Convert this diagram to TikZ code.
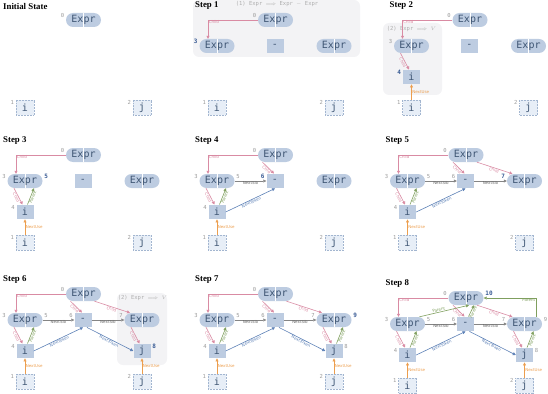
\documentclass[tikz,border=0pt]{standalone}
\usepackage{fontspec}
\setmainfont{Liberation Serif}
\setsansfont{DejaVu Sans}
\setmonofont{DejaVu Sans Mono}
\usepackage{xcolor}
\usetikzlibrary{positioning, calc, arrows.meta}

\definecolor{nodefill}{HTML}{BDCCE1}
\definecolor{nodetext}{HTML}{3E5573}
\definecolor{tokfill}{HTML}{E7EEF7}
\definecolor{tokline}{HTML}{A3B6D0}
\definecolor{numgray}{HTML}{9A9A9A}
\definecolor{numblue}{HTML}{3A5C95}
\definecolor{childcol}{HTML}{D98BA3}
\definecolor{parentcol}{HTML}{7F9F5E}
\definecolor{sibcol}{HTML}{858585}
\definecolor{tokcol}{HTML}{5C80B6}
\definecolor{usecol}{HTML}{EC9E4E}
\definecolor{rulebox}{HTML}{F3F3F5}
\definecolor{ruletext}{HTML}{ADADAD}

\begin{document}
\begin{tikzpicture}[x=1pt, y=-1pt,
    expr/.style={rectangle, rounded corners=7pt, fill=nodefill, text=nodetext,
        minimum width=35pt, minimum height=14pt, inner sep=0pt,
        font=\fontsize{10}{10}\selectfont\ttfamily,
        path picture={\draw[white, line width=0.8pt]
            (path picture bounding box.north) -- (path picture bounding box.south);}},
    sym/.style={rectangle, fill=nodefill, text=nodetext,
        minimum width=17pt, minimum height=14.5pt, inner sep=0pt,
        font=\fontsize{10}{10}\selectfont\ttfamily},
    tokbox/.style={sym, fill=tokfill, draw=tokline, densely dotted, line width=0.5pt,
        minimum width=18pt, minimum height=15pt},
    steptitle/.style={anchor=west, inner sep=0pt, font=\fontsize{8.8}{9}\selectfont\bfseries},
    idl/.style={anchor=north east, inner sep=0.5pt, xshift=-1pt, text=numgray,
        font=\fontsize{5.5}{5.5}\selectfont\ttfamily},
    idr/.style={idl, anchor=north west, xshift=2pt},
    newid/.style={text=numblue, font=\fontsize{6}{6}\selectfont\ttfamily\bfseries},
    rulebg/.style={fill=rulebox, rounded corners=6pt},
    ruletxt/.style={inner sep=0pt, text=ruletext, font=\fontsize{5.5}{5.5}\selectfont\ttfamily},
    edgeln/.style={line width=0.6pt, -{Triangle[length=3pt, width=3pt]}},
    childln/.style={edgeln, draw=childcol},
    parentln/.style={edgeln, draw=parentcol},
    sibln/.style={edgeln, draw=sibcol},
    tokln/.style={edgeln, draw=tokcol},
    useln/.style={edgeln, draw=usecol},
    elbl/.style={inner sep=0.5pt, font=\fontsize{4}{4}\selectfont\sffamily},
    clbl/.style={elbl, text=childcol},
    plbl/.style={elbl, text=parentcol},
    slbl/.style={elbl, text=sibcol!80!black},
    tlbl/.style={elbl, text=tokcol},
    ulbl/.style={elbl, text=usecol}]

    \useasboundingbox (0,0) rectangle (548,393);

    % ==========================================
    % Initial State
    % ==========================================
    \begin{scope}[shift={(3,6)}]
        \node[steptitle] (ttl) at (0,0) {Initial State};
        % Nodes
        \node[expr] (e0) at (80.5,14) {Expr};
        \node[tokbox] (t1) at (22,101.5) {i};
        \node[tokbox] (t2) at (139,101.5) {j};
        % Ids
        \node[idl] (n0) at (e0.north west) {0};
        \node[idl] (n1) at (t1.north west) {1};
        \node[idl] (n2) at (t2.north west) {2};
    \end{scope}

    % ==========================================
    % Step 1
    % ==========================================
    \begin{scope}[shift={(195,6)}]
        \fill[rulebg] (-2,-6) rectangle (165,51);
        \node[ruletxt] (rule) at (82,-2) {(1) Expr $\Longrightarrow$ Expr $-$ Expr};
        \node[steptitle] (ttl) at (0,0) {Step 1};
        % Nodes
        \node[expr] (e0) at (80.5,14) {Expr};
        \node[expr] (e3) at (22,40) {Expr};
        \node[sym] (op) at (80,40) {-};
        \node[expr] (e7) at (139,40) {Expr};
        \node[tokbox] (t1) at (22,101.5) {i};
        \node[tokbox] (t2) at (139,101.5) {j};
        % Ids
        \node[idl] (n0) at (e0.north west) {0};
        \node[idl, newid] (n3) at (e3.north west) {3};
        \node[idl] (n1) at (t1.north west) {1};
        \node[idl] (n2) at (t2.north west) {2};
        % Edges
        \draw[childln] (e0.west) -| ($(e3.north)+(-9,0)$) node[clbl, pos=0.5, anchor=north west] {Child};
    \end{scope}

    % ==========================================
    % Step 2
    % ==========================================
    \begin{scope}[shift={(389.5,6)}]
        \fill[rulebg] (-6.5,17) rectangle (52.5,89);
        \node[ruletxt] (rule) at (22,22.5) {(2) Expr $\Longrightarrow$ $V$};
        \node[steptitle] (ttl) at (0,0) {Step 2};
        % Nodes
        \node[expr] (e0) at (80.5,14) {Expr};
        \node[expr] (e3) at (22,40) {Expr};
        \node[sym] (op) at (80,40) {-};
        \node[expr] (e7) at (139,40) {Expr};
        \node[sym] (v4) at (22,71) {i};
        \node[tokbox] (t1) at (22,101.5) {i};
        \node[tokbox] (t2) at (139,101.5) {j};
        % Ids
        \node[idl] (n0) at (e0.north west) {0};
        \node[idl] (n3) at (e3.north west) {3};
        \node[idl, newid] (n4) at (v4.north west) {4};
        \node[idl] (n1) at (t1.north west) {1};
        \node[idl] (n2) at (t2.north west) {2};
        % Edges
        \draw[childln] (e0.west) -| ($(e3.north)+(-9,0)$) node[clbl, pos=0.5, anchor=north west] {Child};
        \draw[childln] ($(e3.south)+(-11,0)$) -- ($(v4.north)+(-2.5,0)$) node[clbl, midway, sloped, below] {Child};
        \draw[useln] (t1) -- (v4) node[ulbl, midway, right] {NextUse};
    \end{scope}

    % ==========================================
    % Step 3
    % ==========================================
    \begin{scope}[shift={(3,141)}]
        \node[steptitle] (ttl) at (0,0) {Step 3};
        % Nodes
        \node[expr] (e0) at (80.5,14) {Expr};
        \node[expr] (e3) at (22,40) {Expr};
        \node[sym] (op) at (80,40) {-};
        \node[expr] (e7) at (139,40) {Expr};
        \node[sym] (v4) at (22,71) {i};
        \node[tokbox] (t1) at (22,101.5) {i};
        \node[tokbox] (t2) at (139,101.5) {j};
        % Ids
        \node[idl] (n0) at (e0.north west) {0};
        \node[idl] (n3) at (e3.north west) {3};
        \node[idr, newid] (n5) at (e3.north east) {5};
        \node[idl] (n4) at (v4.north west) {4};
        \node[idl] (n1) at (t1.north west) {1};
        \node[idl] (n2) at (t2.north west) {2};
        % Edges
        \draw[childln] (e0.west) -| ($(e3.north)+(-9,0)$) node[clbl, pos=0.5, anchor=north west] {Child};
        \draw[childln] ($(e3.south)+(-11,0)$) -- ($(v4.north)+(-2.5,0)$) node[clbl, midway, sloped, below] {Child};
        \draw[parentln] ($(v4.north)+(2.5,0)$) -- ($(e3.south)+(9,0)$) node[plbl, midway, sloped, below] {Parent};
        \draw[useln] (t1) -- (v4) node[ulbl, midway, right] {NextUse};
    \end{scope}

    % ==========================================
    % Step 4
    % ==========================================
    \begin{scope}[shift={(195,141)}]
        \node[steptitle] (ttl) at (0,0) {Step 4};
        % Nodes
        \node[expr] (e0) at (80.5,14) {Expr};
        \node[expr] (e3) at (22,40) {Expr};
        \node[sym] (op) at (80,40) {-};
        \node[expr] (e7) at (139,40) {Expr};
        \node[sym] (v4) at (22,71) {i};
        \node[tokbox] (t1) at (22,101.5) {i};
        \node[tokbox] (t2) at (139,101.5) {j};
        % Ids
        \node[idl] (n0) at (e0.north west) {0};
        \node[idl] (n3) at (e3.north west) {3};
        \node[idr] (n5) at (e3.north east) {5};
        \node[idl, newid] (n6) at (op.north west) {6};
        \node[idl] (n4) at (v4.north west) {4};
        \node[idl] (n1) at (t1.north west) {1};
        \node[idl] (n2) at (t2.north west) {2};
        % Edges
        \draw[childln] (e0.west) -| ($(e3.north)+(-9,0)$) node[clbl, pos=0.5, anchor=north west] {Child};
        \draw[childln] ($(e0.south)+(-13,0)$) -- ($(op.north)+(-1,0)$) node[clbl, midway, sloped, below] {Child};
        \draw[childln] ($(e3.south)+(-11,0)$) -- ($(v4.north)+(-2.5,0)$) node[clbl, midway, sloped, below] {Child};
        \draw[parentln] ($(v4.north)+(2.5,0)$) -- ($(e3.south)+(9,0)$) node[plbl, midway, sloped, below] {Parent};
        \draw[sibln] (e3) -- (op) node[slbl, midway, below] {NextSib};
        \draw[tokln] (v4.east) -- (op.south) node[tlbl, midway, sloped, below] {NextToken};
        \draw[useln] (t1) -- (v4) node[ulbl, midway, right] {NextUse};
    \end{scope}

    % ==========================================
    % Step 5
    % ==========================================
    \begin{scope}[shift={(385.5,141)}]
        \node[steptitle] (ttl) at (0,0) {Step 5};
        % Nodes
        \node[expr] (e0) at (80.5,14) {Expr};
        \node[expr] (e3) at (22,40) {Expr};
        \node[sym] (op) at (80,40) {-};
        \node[expr] (e7) at (139,40) {Expr};
        \node[sym] (v4) at (22,71) {i};
        \node[tokbox] (t1) at (22,101.5) {i};
        \node[tokbox] (t2) at (139,101.5) {j};
        % Ids
        \node[idl] (n0) at (e0.north west) {0};
        \node[idl] (n3) at (e3.north west) {3};
        \node[idr] (n5) at (e3.north east) {5};
        \node[idl] (n6) at (op.north west) {6};
        \node[idl, newid] (n7) at (e7.north west) {7};
        \node[idl] (n4) at (v4.north west) {4};
        \node[idl] (n1) at (t1.north west) {1};
        \node[idl] (n2) at (t2.north west) {2};
        % Edges
        \draw[childln] (e0.west) -| ($(e3.north)+(-9,0)$) node[clbl, pos=0.5, anchor=north west] {Child};
        \draw[childln] ($(e0.south)+(-13,0)$) -- ($(op.north)+(-1,0)$) node[clbl, midway, sloped, below] {Child};
        \draw[childln] ($(e0.south)+(11,0)$) -- ($(e7.north)+(-12,0)$) node[clbl, midway, sloped, below] {Child};
        \draw[childln] ($(e3.south)+(-11,0)$) -- ($(v4.north)+(-2.5,0)$) node[clbl, midway, sloped, below] {Child};
        \draw[parentln] ($(v4.north)+(2.5,0)$) -- ($(e3.south)+(9,0)$) node[plbl, midway, sloped, below] {Parent};
        \draw[sibln] (e3) -- (op) node[slbl, midway, below] {NextSib};
        \draw[sibln] (op) -- (e7) node[slbl, midway, below] {NextSib};
        \draw[tokln] (v4.east) -- (op.south) node[tlbl, midway, sloped, below] {NextToken};
        \draw[useln] (t1) -- (v4) node[ulbl, midway, right] {NextUse};
    \end{scope}

    % ==========================================
    % Step 6
    % ==========================================
    \begin{scope}[shift={(3,280)}]
        \fill[rulebg] (114,13) rectangle (164,85);
        \node[ruletxt] (rule) at (139.5,18) {(2) Expr $\Longrightarrow$ $V$};
        \node[steptitle] (ttl) at (0,0) {Step 6};
        % Nodes
        \node[expr] (e0) at (80.5,14) {Expr};
        \node[expr] (e3) at (22,40) {Expr};
        \node[sym] (op) at (80,40) {-};
        \node[expr] (e7) at (139,40) {Expr};
        \node[sym] (v4) at (22,71) {i};
        \node[sym] (v8) at (139,71) {j};
        \node[tokbox] (t1) at (22,101.5) {i};
        \node[tokbox] (t2) at (139,101.5) {j};
        % Ids
        \node[idl] (n0) at (e0.north west) {0};
        \node[idl] (n3) at (e3.north west) {3};
        \node[idr] (n5) at (e3.north east) {5};
        \node[idl] (n6) at (op.north west) {6};
        \node[idl] (n7) at (e7.north west) {7};
        \node[idl] (n4) at (v4.north west) {4};
        \node[idr, newid] (n8) at (v8.north east) {8};
        \node[idl] (n1) at (t1.north west) {1};
        \node[idl] (n2) at (t2.north west) {2};
        % Edges
        \draw[childln] (e0.west) -| ($(e3.north)+(-9,0)$) node[clbl, pos=0.5, anchor=north west] {Child};
        \draw[childln] ($(e0.south)+(-13,0)$) -- ($(op.north)+(-1,0)$) node[clbl, midway, sloped, below] {Child};
        \draw[childln] ($(e0.south)+(11,0)$) -- ($(e7.north)+(-12,0)$) node[clbl, midway, sloped, below] {Child};
        \draw[childln] ($(e3.south)+(-11,0)$) -- ($(v4.north)+(-2.5,0)$) node[clbl, midway, sloped, below] {Child};
        \draw[parentln] ($(v4.north)+(2.5,0)$) -- ($(e3.south)+(9,0)$) node[plbl, midway, sloped, below] {Parent};
        \draw[childln] ($(e7.south)+(-11,0)$) -- ($(v8.north)+(-2.5,0)$) node[clbl, midway, sloped, below] {Child};
        \draw[sibln] (e3) -- (op) node[slbl, midway, below] {NextSib};
        \draw[sibln] (op) -- (e7) node[slbl, midway, below] {NextSib};
        \draw[tokln] (v4.east) -- (op.south) node[tlbl, midway, sloped, below] {NextToken};
        \draw[tokln] ($(op.south)+(4,0)$) -- (v8.west) node[tlbl, midway, sloped, below] {NextToken};
        \draw[useln] (t1) -- (v4) node[ulbl, midway, right] {NextUse};
        \draw[useln] (t2) -- (v8) node[ulbl, midway, right] {NextUse};
    \end{scope}

    % ==========================================
    % Step 7
    % ==========================================
    \begin{scope}[shift={(195,280)}]
        \node[steptitle] (ttl) at (0,0) {Step 7};
        % Nodes
        \node[expr] (e0) at (80.5,14) {Expr};
        \node[expr] (e3) at (22,40) {Expr};
        \node[sym] (op) at (80,40) {-};
        \node[expr] (e7) at (139,40) {Expr};
        \node[sym] (v4) at (22,71) {i};
        \node[sym] (v8) at (139,71) {j};
        \node[tokbox] (t1) at (22,101.5) {i};
        \node[tokbox] (t2) at (139,101.5) {j};
        % Ids
        \node[idl] (n0) at (e0.north west) {0};
        \node[idl] (n3) at (e3.north west) {3};
        \node[idr] (n5) at (e3.north east) {5};
        \node[idl] (n6) at (op.north west) {6};
        \node[idl] (n7) at (e7.north west) {7};
        \node[idr, newid] (n9) at (e7.north east) {9};
        \node[idl] (n4) at (v4.north west) {4};
        \node[idr] (n8) at (v8.north east) {8};
        \node[idl] (n1) at (t1.north west) {1};
        \node[idl] (n2) at (t2.north west) {2};
        % Edges
        \draw[childln] (e0.west) -| ($(e3.north)+(-9,0)$) node[clbl, pos=0.5, anchor=north west] {Child};
        \draw[childln] ($(e0.south)+(-13,0)$) -- ($(op.north)+(-1,0)$) node[clbl, midway, sloped, below] {Child};
        \draw[childln] ($(e0.south)+(11,0)$) -- ($(e7.north)+(-12,0)$) node[clbl, midway, sloped, below] {Child};
        \draw[childln] ($(e3.south)+(-11,0)$) -- ($(v4.north)+(-2.5,0)$) node[clbl, midway, sloped, below] {Child};
        \draw[parentln] ($(v4.north)+(2.5,0)$) -- ($(e3.south)+(9,0)$) node[plbl, midway, sloped, below] {Parent};
        \draw[childln] ($(e7.south)+(-11,0)$) -- ($(v8.north)+(-2.5,0)$) node[clbl, midway, sloped, below] {Child};
        \draw[parentln] ($(v8.north)+(2.5,0)$) -- ($(e7.south)+(9,0)$) node[plbl, midway, sloped, below] {Parent};
        \draw[sibln] (e3) -- (op) node[slbl, midway, below] {NextSib};
        \draw[sibln] (op) -- (e7) node[slbl, midway, below] {NextSib};
        \draw[tokln] (v4.east) -- (op.south) node[tlbl, midway, sloped, below] {NextToken};
        \draw[tokln] ($(op.south)+(4,0)$) -- (v8.west) node[tlbl, midway, sloped, below] {NextToken};
        \draw[useln] (t1) -- (v4) node[ulbl, midway, right] {NextUse};
        \draw[useln] (t2) -- (v8) node[ulbl, midway, right] {NextUse};
    \end{scope}

    % ==========================================
    % Step 8
    % ==========================================
    \begin{scope}[shift={(385.5,284)}]
        \node[steptitle] (ttl) at (0,0) {Step 8};
        % Nodes
        \node[expr] (e0) at (80.5,14) {Expr};
        \node[expr] (e3) at (22,40) {Expr};
        \node[sym] (op) at (80,40) {-};
        \node[expr] (e7) at (139,40) {Expr};
        \node[sym] (v4) at (22,71) {i};
        \node[sym] (v8) at (139,71) {j};
        \node[tokbox] (t1) at (22,101.5) {i};
        \node[tokbox] (t2) at (139,101.5) {j};
        % Ids
        \node[idl] (n0) at (e0.north west) {0};
        \node[idr, newid] (n10) at (e0.north east) {10};
        \node[idl] (n3) at (e3.north west) {3};
        \node[idr] (n5) at (e3.north east) {5};
        \node[idl] (n6) at (op.north west) {6};
        \node[idl] (n7) at (e7.north west) {7};
        \node[idr] (n9) at (e7.north east) {9};
        \node[idl] (n4) at (v4.north west) {4};
        \node[idr] (n8) at (v8.north east) {8};
        \node[idl] (n1) at (t1.north west) {1};
        \node[idl] (n2) at (t2.north west) {2};
        % Edges
        \draw[childln] (e0.west) -| ($(e3.north)+(-9,0)$) node[clbl, pos=0.5, anchor=north west] {Child};
        \draw[childln] ($(e0.south)+(-13,0)$) -- ($(op.north)+(-1,0)$) node[clbl, midway, sloped, below] {Child};
        \draw[childln] ($(e0.south)+(11,0)$) -- ($(e7.north)+(-12,0)$) node[clbl, midway, sloped, below] {Child};
        \draw[parentln] ($(e3.north)+(12,0)$) -- ($(e0.south)+(3,0)$) node[plbl, pos=0.4, sloped, above] {Parent};
        \draw[parentln] ($(op.north)+(3,0)$) -- ($(e0.south)+(8,0)$) node[plbl, midway, sloped, below] {Parent};
        \draw[parentln] ($(e7.north)+(12,0)$) |- (e0.east) node[plbl, pos=0.5, anchor=north east, xshift=-0.5pt] {Parent};
        \draw[childln] ($(e3.south)+(-11,0)$) -- ($(v4.north)+(-2.5,0)$) node[clbl, midway, sloped, below] {Child};
        \draw[parentln] ($(v4.north)+(2.5,0)$) -- ($(e3.south)+(9,0)$) node[plbl, midway, sloped, below] {Parent};
        \draw[childln] ($(e7.south)+(-11,0)$) -- ($(v8.north)+(-2.5,0)$) node[clbl, midway, sloped, below] {Child};
        \draw[parentln] ($(v8.north)+(2.5,0)$) -- ($(e7.south)+(9,0)$) node[plbl, midway, sloped, below] {Parent};
        \draw[sibln] (e3) -- (op) node[slbl, midway, below] {NextSib};
        \draw[sibln] (op) -- (e7) node[slbl, midway, below] {NextSib};
        \draw[tokln] (v4.east) -- (op.south) node[tlbl, midway, sloped, below] {NextToken};
        \draw[tokln] ($(op.south)+(4,0)$) -- (v8.west) node[tlbl, midway, sloped, below] {NextToken};
        \draw[useln] (t1) -- (v4) node[ulbl, midway, right] {NextUse};
        \draw[useln] (t2) -- (v8) node[ulbl, midway, right] {NextUse};
    \end{scope}

\end{tikzpicture}
\end{document}
